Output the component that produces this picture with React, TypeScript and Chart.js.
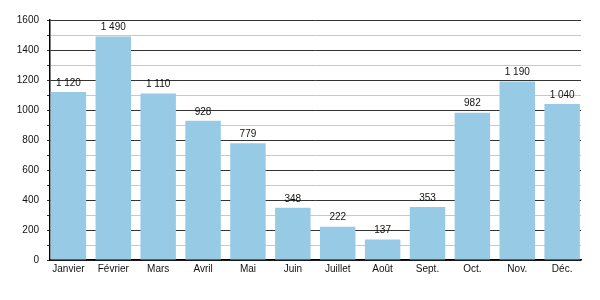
import React, { useEffect, useRef } from "react";
import { Chart, registerables } from "chart.js";

Chart.register(...registerables);

const categories = ["Janvier", "Février", "Mars", "Avril", "Mai", "Juin", "Juillet", "Août", "Sept.", "Oct.", "Nov.", "Déc."];
const values = [1120, 1490, 1110, 928, 779, 348, 222, 137, 353, 982, 1190, 1040];
const valueLabels = ["1 120", "1 490", "1 110", "928", "779", "348", "222", "137", "353", "982", "1 190", "1 040"];

const FONT = "'Liberation Sans', Arial, sans-serif";

const labelPlugin = {
  id: "barLabels",
  afterDatasetsDraw(chart: any) {
    const ctx = chart.ctx;
    const meta = chart.getDatasetMeta(0);
    ctx.save();
    ctx.font = `10px ${FONT}`;
    ctx.fillStyle = "#111";
    ctx.textAlign = "center";
    ctx.textBaseline = "bottom";
    meta.data.forEach((bar: any, i: number) => {
      ctx.fillText(valueLabels[i], bar.x, bar.y - 4);
    });
    ctx.restore();
  },
};

export default function App() {
  const ref = useRef<HTMLCanvasElement>(null);
  useEffect(() => {
    document.body.style.margin = "0";
    const chart = new Chart(ref.current!, {
      type: "bar",
      data: {
        datasets: [
          {
            data: values.map((v, i) => ({ x: i, y: v })),
            backgroundColor: "#97cae5",
            borderWidth: 0,
            barPercentage: 0.79,
            categoryPercentage: 1,
          },
        ],
      },
      options: {
        animation: false,
        responsive: false,
        layout: { padding: { top: 20, right: 19, left: 0, bottom: 0 } },
        plugins: { legend: { display: false }, tooltip: { enabled: false } },
        scales: {
          x: {
            type: "linear",
            min: -0.41,
            max: 11.42,
            offset: false,
            grid: { display: false, drawTicks: false },
            border: { display: true, color: "#000", width: 1.5 },
            ticks: {
              stepSize: 1,
              includeBounds: false,
              color: "#111",
              font: { family: FONT, size: 10 },
              padding: 3,
              maxRotation: 0,
              autoSkip: false,
              callback: (v: any) => (Number.isInteger(v) && categories[v] !== undefined ? categories[v] : ""),
            },
            afterFit: (s: any) => { s.height = 40; },
          },
          y: {
            min: 0,
            max: 1600,
            border: { display: true, color: "#000", width: 1.5 },
            grid: {
              color: (c: any) => (c.tick && c.tick.value % 200 === 0 ? "#333" : "#c8c8c8"),
              lineWidth: 1,
              tickColor: "#333",
              tickLength: 3,
            },
            ticks: {
              stepSize: 100,
              color: "#111",
              font: { family: FONT, size: 10 },
              padding: 8,
              callback: (v: any) => (v % 200 === 0 ? String(v) : ""),
              autoSkip: false,
            },
            afterFit: (s: any) => { s.width = 50; },
          },
        },
      },
      plugins: [labelPlugin],
    });
    return () => chart.destroy();
  }, []);
  return (
    <div style={{ width: 600, height: 300 }}>
      <canvas ref={ref} width={600} height={300} style={{ display: "block" }} />
    </div>
  );
}
